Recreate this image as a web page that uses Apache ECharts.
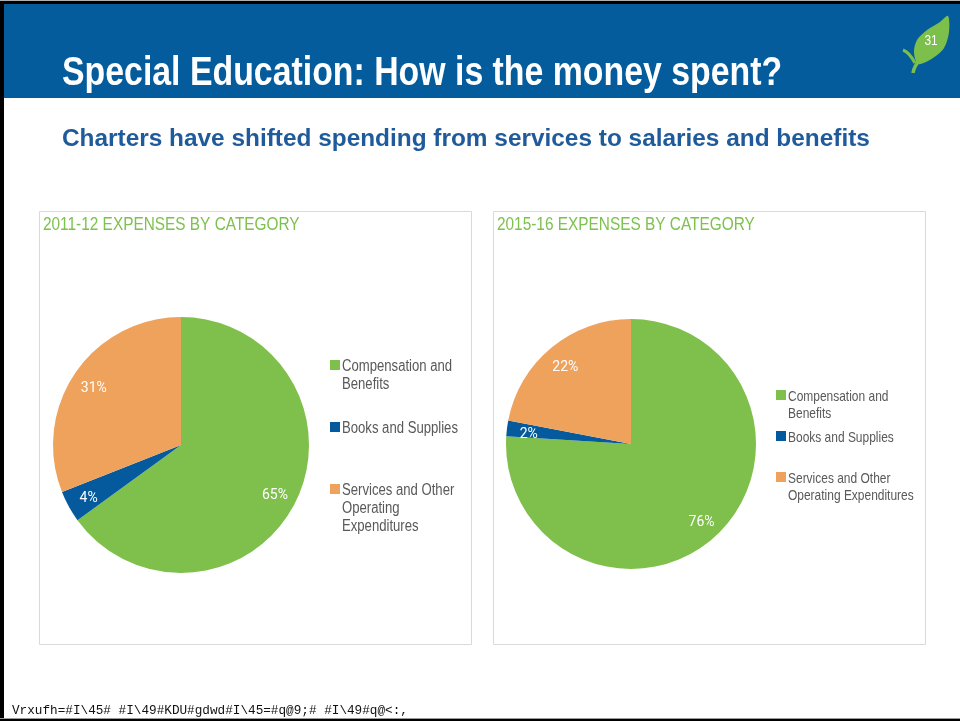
<!DOCTYPE html>
<html>
<head>
<meta charset="utf-8">
<script src="https://cdn.jsdelivr.net/npm/echarts@6/dist/echarts.min.js"></script>
<style>
html,body{margin:0;padding:0;background:#fff;}
#main{width:960px;height:721px;}
</style>
</head>
<body>
<div id="main"></div>
<script>
const categories = ['Compensation and Benefits', 'Books and Supplies', 'Services and Other Operating Expenditures'];
const values2011 = [65, 4, 31];
const values2016 = [76, 2, 22];
const chartTitles = ['2011-12 EXPENSES BY CATEGORY', '2015-16 EXPENSES BY CATEGORY'];
const legendLines1 = [['Compensation and', 'Benefits'], ['Books and Supplies'], ['Services and Other', 'Operating', 'Expenditures']];
const legendLines2 = [['Compensation and', 'Benefits'], ['Books and Supplies'], ['Services and Other', 'Operating Expenditures']];
const slideTitle = 'Special Education: How is the money spent?';
const slideSubtitle = 'Charters have shifted spending from services to salaries and benefits';
const pageNumber = '31';
const footerText = 'Vrxufh=#I\\45# #I\\49#KDU#gdwd#I\\45=#q@9;# #I\\49#q@<:,';

const colors = ['#7fbf4b', '#045a9c', '#eea25c'];
const SANS = "'Liberation Sans', Arial, sans-serif";

function pieData(vals) {
  return categories.map((c, i) => ({ name: c, value: vals[i], itemStyle: { color: colors[i] } }));
}
function labelData(vals) {
  return categories.map((c, i) => ({ name: c, value: vals[i], itemStyle: { color: 'rgba(0,0,0,0)' } }));
}

function pieSeries(vals, center, r) {
  return [
    {
      type: 'pie', center: center, radius: [0, r], startAngle: 90, clockwise: true,
      data: pieData(vals), label: { show: false }, labelLine: { show: false },
      itemStyle: { borderWidth: 0 }, emphasis: { disabled: true }, silent: true, animation: false
    },
    {
      type: 'pie', center: center, radius: [r * 0.6, r], startAngle: 90, clockwise: true,
      data: labelData(vals), legendHoverLink: false,
      label: { show: true, position: 'inside', formatter: '{c}%', color: '#fff', fontSize: 14, fontFamily: 'Roboto, sans-serif', offset: [0, 3] },
      labelLine: { show: false }, itemStyle: { borderWidth: 0 }, emphasis: { disabled: true }, silent: true, animation: false
    }
  ];
}

// legend built from the category arrays (narrow text via horizontal scaling)
function legendGraphics(linesArr, x, centers, fontSize, lh, scale) {
  const els = [];
  categories.forEach((c, i) => {
    els.push({ type: 'rect', shape: { x: x, y: centers[i] - 5, width: 10, height: 10 }, style: { fill: colors[i] }, silent: true });
    els.push({
      type: 'text', x: x + 12, y: centers[i] - lh / 2 + 1.5, scaleX: scale,
      style: { text: linesArr[i].join('\n'), fill: '#595959', font: fontSize + 'px ' + SANS, lineHeight: lh, verticalAlign: 'top' },
      silent: true
    });
  });
  return els;
}

const chart = echarts.init(document.getElementById('main'), null, { renderer: 'canvas' });

const graphics = [
  { type: 'rect', shape: { x: 0, y: 0, width: 960, height: 1 }, style: { fill: '#b0b0b0' }, silent: true },
  { type: 'rect', shape: { x: 0, y: 1, width: 960, height: 3 }, style: { fill: '#000' }, silent: true },
  { type: 'rect', shape: { x: 0, y: 1, width: 4, height: 720 }, style: { fill: '#000' }, silent: true },
  { type: 'rect', shape: { x: 4, y: 4, width: 956, height: 94 }, style: { fill: '#045c9d' }, silent: true },
  { type: 'rect', shape: { x: 0, y: 718, width: 960, height: 1 }, style: { fill: '#9a9a9a' }, silent: true },
  { type: 'rect', shape: { x: 0, y: 719, width: 960, height: 2 }, style: { fill: '#000' }, silent: true },
  { type: 'text', x: 62, y: 74, scaleX: 0.846, style: { text: slideTitle, fill: '#fff', font: 'bold 40px ' + SANS, verticalAlign: 'middle' }, silent: true },
  { type: 'text', x: 62, y: 139, style: { text: slideSubtitle, fill: '#1f5b9b', font: 'bold 24.4px ' + SANS, verticalAlign: 'middle' }, silent: true },
  // leaf
  { type: 'polygon', shape: { points: [[948, 16], [949, 32], [944, 48], [933, 58], [918, 64], [914, 52], [917, 40], [927, 30], [940, 22]], smooth: 0.3 }, style: { fill: '#7dbf4b' }, silent: true },
  { type: 'bezierCurve', shape: { x1: 920, y1: 60, x2: 913, y2: 73, cpx1: 914, cpy1: 66 }, style: { stroke: '#7dbf4b', lineWidth: 3.5, fill: null }, silent: true },
  { type: 'bezierCurve', shape: { x1: 903, y1: 50, x2: 915, y2: 63, cpx1: 909, cpy1: 52 }, style: { stroke: '#7dbf4b', lineWidth: 3, fill: null }, silent: true },
  { type: 'text', x: 931, y: 41, scaleX: 0.85, style: { text: pageNumber, fill: '#fff', font: '14px ' + SANS, align: 'center', verticalAlign: 'middle' }, silent: true },
  // panels
  { type: 'rect', shape: { x: 39.5, y: 211.5, width: 432, height: 433 }, style: { fill: null, stroke: '#d9d9d9', lineWidth: 1 }, silent: true },
  { type: 'rect', shape: { x: 493.5, y: 211.5, width: 432, height: 433 }, style: { fill: null, stroke: '#d9d9d9', lineWidth: 1 }, silent: true },
  { type: 'text', x: 43, y: 225, scaleX: 0.855, style: { text: chartTitles[0], fill: '#7dc14e', font: '18px ' + SANS, verticalAlign: 'middle' }, silent: true },
  { type: 'text', x: 497, y: 225, scaleX: 0.855, style: { text: chartTitles[1], fill: '#7dc14e', font: '18px ' + SANS, verticalAlign: 'middle' }, silent: true },
  { type: 'text', x: 12, y: 711, style: { text: footerText, fill: '#111', font: '12.7px "Liberation Mono", monospace', verticalAlign: 'middle' }, silent: true }
].concat(
  legendGraphics(legendLines1, 330, [365, 427, 489], 16, 18, 0.82),
  legendGraphics(legendLines2, 776, [395, 436, 477], 14.6, 17, 0.82)
);

const option = {
  animation: false,
  series: [].concat(pieSeries(values2011, [181, 445], 128), pieSeries(values2016, [631, 444], 125)),
  graphic: { elements: graphics }
};
chart.setOption(option);
</script>
</body>
</html>
